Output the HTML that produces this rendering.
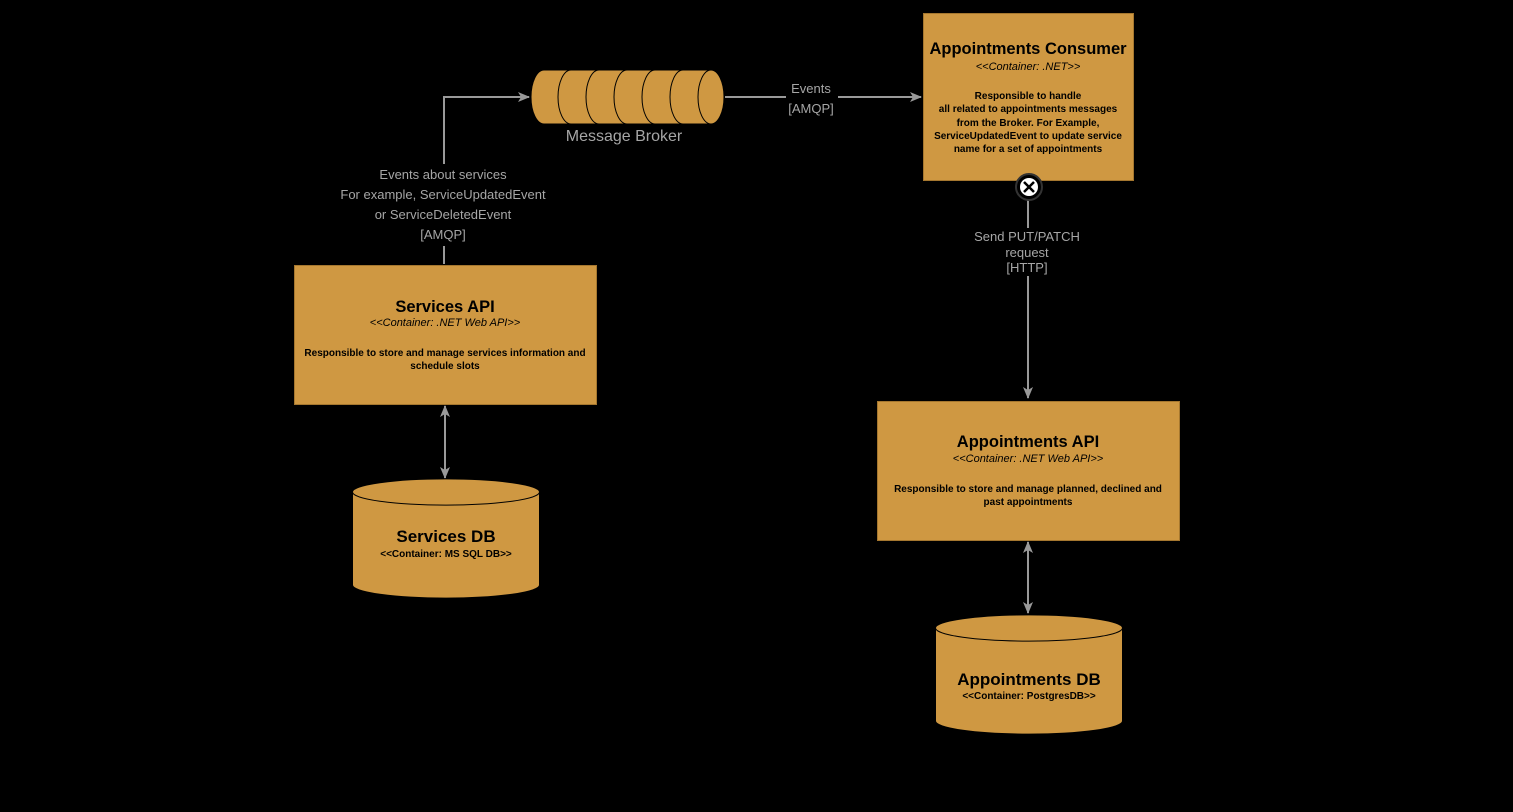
<!DOCTYPE html>
<html><head><meta charset="utf-8"><style>
html,body{margin:0;padding:0;background:#000;}
svg{display:block;font-family:"Liberation Sans",Arial,sans-serif;}
</style></head><body>
<svg width="1513" height="812" viewBox="0 0 1513 812" xmlns="http://www.w3.org/2000/svg">
<defs>
<marker id="ar" markerWidth="12" markerHeight="12" refX="11" refY="6" orient="auto" markerUnits="userSpaceOnUse">
<path d="M0,1 L12,6 L0,11 L3,6 Z" fill="#999"/></marker>
<marker id="as" markerWidth="12" markerHeight="12" refX="1" refY="6" orient="auto" markerUnits="userSpaceOnUse">
<path d="M12,1 L0,6 L12,11 L9,6 Z" fill="#999"/></marker>
</defs>
<rect width="1513" height="812" fill="#000"/>
<g stroke="#999" stroke-width="2" fill="none">
<path d="M444,264 V97 H529" marker-end="url(#ar)"/>
<path d="M725,97 H921" marker-end="url(#ar)"/>
<path d="M1028,188 V398" marker-end="url(#ar)"/>
<path d="M445,406 V478" marker-start="url(#as)" marker-end="url(#ar)"/>
<path d="M1028,542 V613" marker-start="url(#as)" marker-end="url(#ar)"/>
</g>
<rect x="336" y="164" width="216" height="82" fill="#000"/>
<rect x="786" y="80" width="52" height="36" fill="#000"/>
<rect x="966" y="228" width="122" height="48" fill="#000"/>
<g fill="#a6a6a6" font-size="13" text-anchor="middle">
<text x="443" y="179">Events about services</text>
<text x="443" y="199">For example, ServiceUpdatedEvent</text>
<text x="443" y="219">or ServiceDeletedEvent</text>
<text x="443" y="239">[AMQP]</text>
<text x="811" y="93">Events</text>
<text x="811" y="113">[AMQP]</text>
<text x="1027" y="241">Send PUT/PATCH</text>
<text x="1027" y="257">request</text>
<text x="1027" y="272">[HTTP]</text>
<text x="624" y="141" font-size="16">Message Broker</text>
</g>
<g fill="#CF9842" stroke="#000" stroke-width="1">
<path d="M544,70 H711 A13,27 0 0 1 711,124 H544 A13,27 0 0 1 544,70 Z"/>
<g fill="none">
<path d="M571,70 A13,27 0 0 0 571,124"/>
<path d="M599,70 A13,27 0 0 0 599,124"/>
<path d="M627,70 A13,27 0 0 0 627,124"/>
<path d="M655,70 A13,27 0 0 0 655,124"/>
<path d="M683,70 A13,27 0 0 0 683,124"/>
</g>
<ellipse cx="711" cy="97" rx="13" ry="27"/>
</g>
<rect x="923.5" y="13.5" width="210" height="167" fill="#CF9842" stroke="#a5772f"/>
<g text-anchor="middle" fill="#000">
<text x="1028" y="54" font-size="16.5" font-weight="bold">Appointments Consumer</text>
<text x="1028" y="70" font-size="11" font-style="italic">&lt;&lt;Container: .NET&gt;&gt;</text>
<g font-size="10" font-weight="bold">
<text x="1028" y="99">Responsible to handle</text>
<text x="1028" y="112">all related to appointments messages</text>
<text x="1028" y="126">from the Broker. For Example,</text>
<text x="1028" y="139">ServiceUpdatedEvent to update service</text>
<text x="1028" y="152">name for a set of appointments</text>
</g></g>
<circle cx="1029" cy="187" r="13" fill="#000" stroke="#333" stroke-width="2"/>
<circle cx="1029" cy="187" r="9" fill="#fff"/>
<path d="M1024,182 L1034,192 M1034,182 L1024,192" stroke="#000" stroke-width="2.5"/>
<rect x="294.5" y="265.5" width="302" height="139" fill="#CF9842" stroke="#a5772f"/>
<g text-anchor="middle" fill="#000">
<text x="445" y="312" font-size="16.5" font-weight="bold">Services API</text>
<text x="445" y="326" font-size="11" font-style="italic">&lt;&lt;Container: .NET Web API&gt;&gt;</text>
<text x="445" y="356" font-size="10" font-weight="bold">Responsible to store and manage services information and</text>
<text x="445" y="369" font-size="10" font-weight="bold">schedule slots</text>
</g>
<rect x="877.5" y="401.5" width="302" height="139" fill="#CF9842" stroke="#a5772f"/>
<g text-anchor="middle" fill="#000">
<text x="1028" y="447" font-size="16.5" font-weight="bold">Appointments API</text>
<text x="1028" y="462" font-size="11" font-style="italic">&lt;&lt;Container: .NET Web API&gt;&gt;</text>
<text x="1028" y="492" font-size="10" font-weight="bold">Responsible to store and manage planned, declined and</text>
<text x="1028" y="505" font-size="10" font-weight="bold">past appointments</text>
</g>
<g fill="#CF9842" stroke="#000" stroke-width="1">
<path d="M352.5,492 A93,13 0 0 1 539.5,492 V585 A93,13 0 0 1 352.5,585 Z"/>
<path d="M352.5,492 A93,13 0 0 0 539.5,492" fill="none"/>
</g>
<g text-anchor="middle" fill="#000">
<text x="446" y="542" font-size="17" font-weight="bold">Services DB</text>
<text x="446" y="557" font-size="10" font-weight="bold">&lt;&lt;Container: MS SQL DB&gt;&gt;</text>
</g>
<g fill="#CF9842" stroke="#000" stroke-width="1">
<path d="M935.5,628 A93,13 0 0 1 1122.5,628 V721 A93,13 0 0 1 935.5,721 Z"/>
<path d="M935.5,628 A93,13 0 0 0 1122.5,628" fill="none"/>
</g>
<g text-anchor="middle" fill="#000">
<text x="1029" y="685" font-size="17" font-weight="bold">Appointments DB</text>
<text x="1029" y="699" font-size="10" font-weight="bold">&lt;&lt;Container: PostgresDB&gt;&gt;</text>
</g>
</svg>
</body></html>
